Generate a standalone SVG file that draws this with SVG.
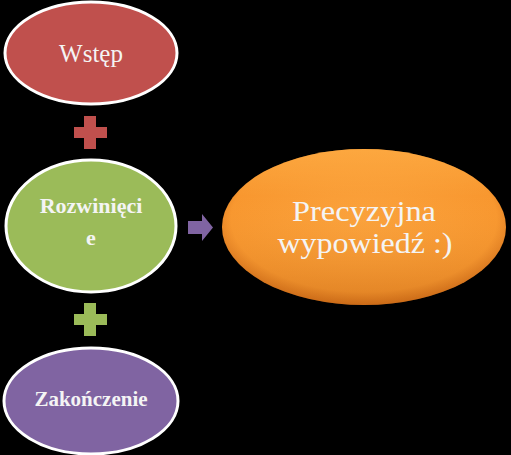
<svg xmlns="http://www.w3.org/2000/svg" width="511" height="455" viewBox="0 0 511 455">
<style>
.node{stroke:#ffffff;stroke-width:3}
.lbl{font-family:"Liberation Serif","DejaVu Serif",serif;fill:#f4f4f4;text-anchor:middle}
</style>
<defs>
<radialGradient id="og" cx="0.5" cy="0.45" r="0.55">
<stop offset="0" stop-color="#fba23c"/>
<stop offset="0.85" stop-color="#f8972f"/>
<stop offset="1" stop-color="#d9741c"/>
</radialGradient>
<linearGradient id="ohl" x1="0" y1="0" x2="0" y2="1">
<stop offset="0" stop-color="#ffb24a" stop-opacity="0.6"/>
<stop offset="0.3" stop-color="#ffb24a" stop-opacity="0"/>
<stop offset="1" stop-color="#b0580e" stop-opacity="0.35"/>
</linearGradient>
</defs>
<rect width="511" height="455" fill="#000000"/>
<g id="connectors">
<path d="M84,116 H96 V127 H107 V138 H96 V149 H84 V138 H74 V127 H84 Z" fill="#c0504d"/>
<path d="M84,303 H96 V314 H107 V325 H96 V336 H84 V325 H74 V314 H84 Z" fill="#9bbb59"/>
<path d="M188,221 H202 V214 L213,227.5 L202,241 V234 H188 Z" fill="#8064a2"/>
</g>
<g id="wstep">
<ellipse class="node" cx="91" cy="53" rx="86" ry="51" fill="#c0504d"/>
<text class="lbl" x="91" y="62" font-size="25">Wstęp</text>
</g>
<g id="rozwiniecie">
<ellipse class="node" cx="91" cy="226" rx="85" ry="66" fill="#9bbb59"/>
<text class="lbl" x="91" y="213" font-size="22" font-weight="bold">Rozwinięci</text>
<text class="lbl" x="91" y="245" font-size="22" font-weight="bold">e</text>
</g>
<g id="zakonczenie">
<ellipse class="node" cx="91" cy="401" rx="87" ry="53" fill="#8064a2"/>
<text class="lbl" x="91" y="406" font-size="21" font-weight="bold">Zakończenie</text>
</g>
<g id="precyzyjna">
<ellipse cx="364" cy="227" rx="142" ry="78" fill="url(#og)"/>
<ellipse cx="364" cy="227" rx="142" ry="78" fill="url(#ohl)"/>
<text class="lbl" x="364" y="221" font-size="30" textLength="144" lengthAdjust="spacingAndGlyphs">Precyzyjna</text>
<text class="lbl" x="365" y="253" font-size="30" textLength="175" lengthAdjust="spacingAndGlyphs">wypowiedź :)</text>
</g>
</svg>
